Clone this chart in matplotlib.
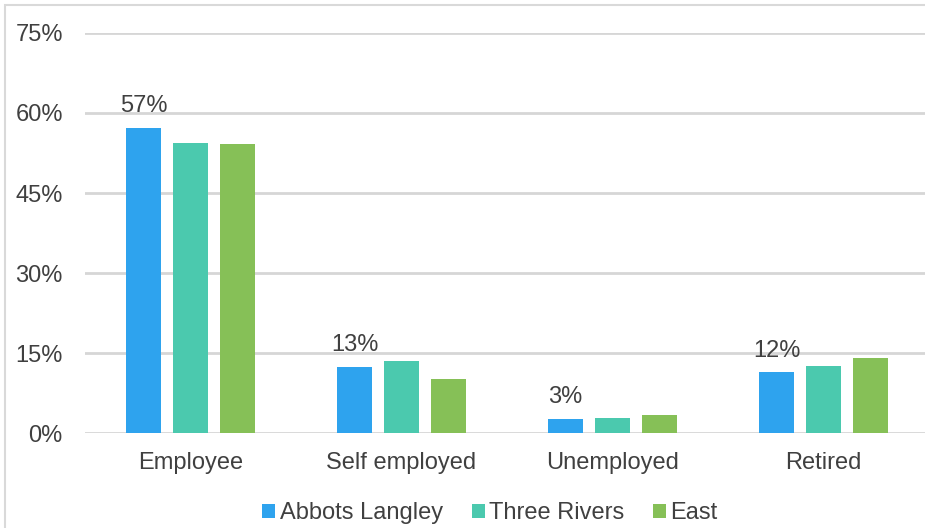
import numpy as np
import matplotlib.pyplot as plt
from matplotlib.patches import Rectangle

plt.rcParams['font.family'] = ['Liberation Sans', 'DejaVu Sans']

categories = ['Employee', 'Self employed', 'Unemployed', 'Retired']
abbots = [57.2, 12.4, 2.6, 11.4]
three_rivers = [54.4, 13.5, 2.8, 12.6]
east = [54.2, 10.1, 3.4, 14.1]
labels = ['57%', '13%', '3%', '12%']

series = [('Abbots Langley', abbots, '#2EA3EE'),
          ('Three Rivers', three_rivers, '#4BC9AE'),
          ('East', east, '#86C057')]

fig = plt.figure(figsize=(9.25, 5.28), dpi=100)
ax = fig.add_axes([85/925, 95/528, 844/925, 400/528])

x = np.arange(len(categories))
w = 0.17
step = 0.223
for i, (name, vals, col) in enumerate(series):
    ax.bar(x + (i-1)*step, vals, w, color=col, label=name, zorder=3)

for xi, v, t in zip(x, abbots, labels):
    ax.text(xi - step, v + 2.0, t, ha='center', va='bottom', fontsize=17, color='#404040')

ax.set_ylim(0, 75)
ax.set_xlim(-0.5, 3.5)
ax.set_yticks([0, 15, 30, 45, 60, 75])
ax.set_yticklabels(['0%', '15%', '30%', '45%', '60%', '75%'])
ax.set_xticks(x)
ax.set_xticklabels(categories)
ax.grid(axis='y', color='#d6d6d6', linewidth=2, zorder=0)
for s in ax.spines.values():
    s.set_visible(False)
ax.tick_params(length=0, labelsize=17, colors='#404040')
ax.tick_params(axis='y', pad=16)
ax.tick_params(axis='x', pad=14)

ax.legend(loc='center', bbox_to_anchor=(0.48, -80/400), ncol=3, frameon=False,
          fontsize=17, handlelength=0.55, handleheight=0.55, handletextpad=0.2,
          columnspacing=1.2, labelcolor='#404040')

fig.patches.append(Rectangle((5/925, -0.1), 1.2, (528-5)/528 + 0.1, transform=fig.transFigure,
                             fill=False, edgecolor='#d9d9d9', linewidth=1.5))

fig.savefig('out.png', dpi=100)
